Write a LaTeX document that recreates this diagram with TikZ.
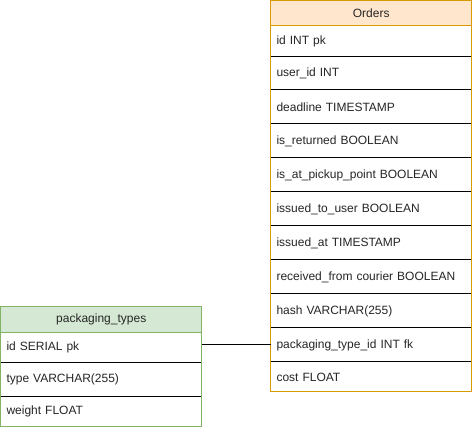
\documentclass[tikz,border=0pt]{standalone}
\usepackage{fontspec}
\setmainfont{Liberation Sans}
\usetikzlibrary{positioning}
\definecolor{ordfill}{HTML}{FFE6CC}
\definecolor{ordline}{HTML}{D79B00}
\definecolor{packfill}{HTML}{D5E8D4}
\definecolor{packline}{HTML}{82B366}
\begin{document}
\begin{tikzpicture}[x=0.75pt,y=-0.75pt,
    every node/.style={font=\fontsize{9}{11}\selectfont, inner sep=0pt, outer sep=0pt, text=black!85},
    field/.style={minimum width=151.1pt, text width=142.1pt, align=left, inner xsep=4.5pt},
    title/.style={minimum width=151.1pt, align=center},
    sep/.style={line width=0.75pt},
    node distance=0pt]
    \useasboundingbox[fill=white] (0,0) rectangle (473,430);
    % Orders
    \node[title, fill=ordfill, minimum height=19.1pt, anchor=north west] (ord) at (270.5,0.5) {Orders};
    \node[field, minimum height=23.25pt, below=of ord] (oid) {id INT pk};
    \node[field, minimum height=24.75pt, below=of oid] (ouser) {user\_id INT};
    \node[field, minimum height=25.5pt, below=of ouser] (odead) {deadline TIMESTAMP};
    \node[field, minimum height=25.5pt, below=of odead] (oret) {is\_returned BOOLEAN};
    \node[field, minimum height=25.5pt, below=of oret] (opick) {is\_at\_pickup\_point BOOLEAN};
    \node[field, minimum height=25.5pt, below=of opick] (oissued) {issued\_to\_user BOOLEAN};
    \node[field, minimum height=25.5pt, below=of oissued] (oat) {issued\_at TIMESTAMP};
    \node[field, minimum height=25.5pt, below=of oat] (orecv) {received\_from courier BOOLEAN};
    \node[field, minimum height=25.5pt, below=of orecv] (ohash) {hash VARCHAR(255)};
    \node[field, minimum height=25.5pt, below=of ohash] (optype) {packaging\_type\_id INT fk};
    \node[field, minimum height=22.5pt, below=of optype] (ocost) {cost FLOAT};
    \foreach \r in {oid,ouser,odead,oret,opick,oissued,oat,orecv,ohash,optype}
        \draw[sep] (\r.south west) -- (\r.south east);
    \draw[sep, ordline] (ord.south west) -- (ord.south east);
    \draw[sep, ordline] (ord.north west) rectangle (ocost.south east);
    % packaging_types
    \node[title, fill=packfill, minimum height=19.2pt, anchor=north west] (pack) at (0.5,306.7) {packaging\_types};
    \node[field, minimum height=22.5pt, below=of pack] (pid) {id SERIAL pk};
    \node[field, minimum height=25.3pt, below=of pid] (ptyp) {type VARCHAR(255)};
    \node[field, minimum height=22.5pt, below=of ptyp] (pweight) {weight FLOAT};
    \foreach \r in {pid,ptyp}
        \draw[sep] (\r.south west) -- (\r.south east);
    \draw[sep, packline] (pack.south west) -- (pack.south east);
    \draw[sep, packline] (pack.north west) rectangle (pweight.south east);
    % link
    \draw[sep] (optype.west -| pid.east) -- (optype.west);
\end{tikzpicture}
\end{document}
